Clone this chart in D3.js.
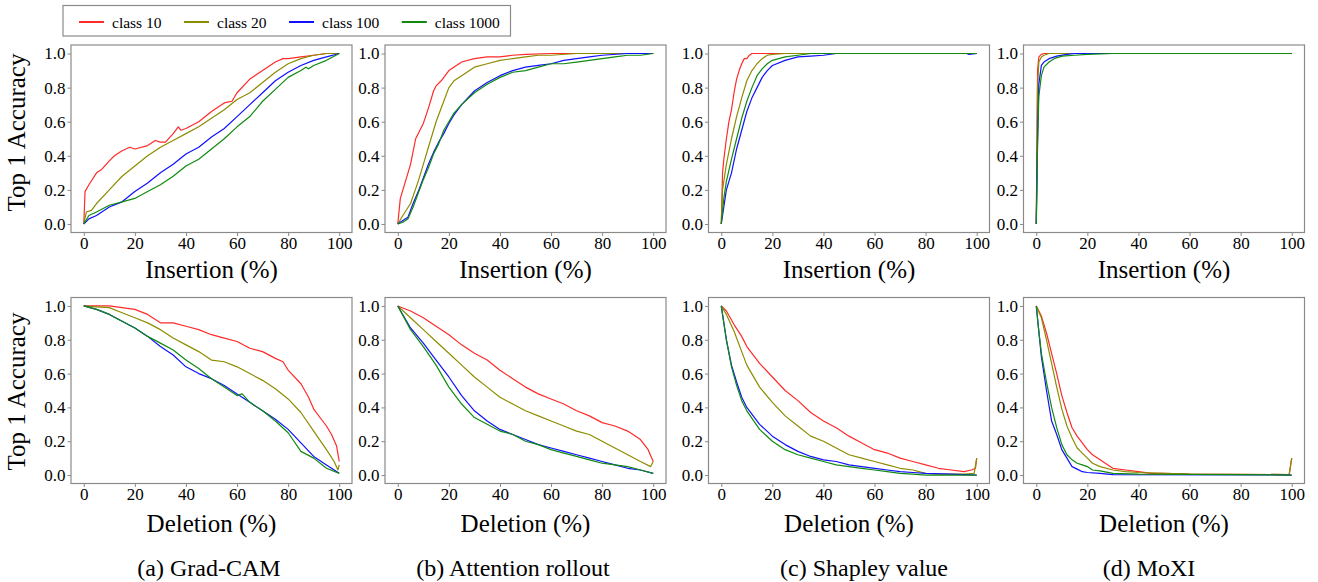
<!DOCTYPE html>
<html>
<head>
<meta charset="utf-8">
<script src="https://cdn.jsdelivr.net/npm/d3@7"></script>
<style>
  html, body { margin: 0; padding: 0; background: #fff; }
  svg { display: block; }
  svg text { font-family: "Liberation Serif", "Times New Roman", serif; fill: #000; }
</style>
</head>
<body>
<svg id="chart" width="1318" height="582"></svg>
<script>
// legend / series
var classes = ["class 10", "class 20", "class 100", "class 1000"];
var colors = ["#ff2a2a", "#8c8c00", "#1010ff", "#108a10"];
var xTicks = [0, 20, 40, 60, 80, 100];
var yTicks = [0, 0.2, 0.4, 0.6, 0.8, 1.0];
var captions = ["(a) Grad-CAM", "(b) Attention rollout", "(c) Shapley value", "(d) MoXI"];

// each panel: [class10, class20, class100, class1000], points are [percent, accuracy]
var insGradCam = [
  [[0,0],[0.5,0.19],[2,0.23],[5,0.30],[7,0.32],[10,0.37],[12,0.40],[15,0.43],[18,0.45],[20,0.44],[25,0.46],[28,0.49],[30,0.48],[32,0.48],[35,0.53],[37,0.57],[38,0.55],[40,0.56],[45,0.60],[50,0.66],[55,0.71],[58,0.72],[60,0.77],[65,0.85],[70,0.90],[75,0.95],[78,0.97],[80,0.97],[85,0.98],[90,0.99],[95,1.0],[100,1.0]],
  [[0,0],[1,0.07],[3,0.08],[5,0.12],[10,0.20],[15,0.28],[20,0.34],[25,0.40],[30,0.45],[35,0.49],[40,0.53],[45,0.57],[50,0.62],[55,0.67],[60,0.73],[65,0.77],[70,0.83],[75,0.89],[80,0.94],[85,0.97],[90,0.99],[95,1.0],[100,1.0]],
  [[0,0],[2,0.03],[5,0.05],[10,0.10],[15,0.13],[20,0.19],[25,0.24],[30,0.30],[35,0.35],[40,0.41],[45,0.45],[50,0.51],[55,0.56],[60,0.63],[65,0.70],[70,0.77],[75,0.84],[80,0.89],[85,0.93],[90,0.96],[95,0.98],[100,1.0]],
  [[0,0],[2,0.05],[5,0.07],[10,0.11],[15,0.13],[20,0.15],[25,0.19],[30,0.23],[35,0.28],[40,0.34],[45,0.38],[50,0.44],[55,0.50],[60,0.57],[65,0.63],[70,0.72],[75,0.79],[80,0.86],[85,0.90],[87,0.92],[88,0.91],[90,0.93],[95,0.96],[100,1.0]]
];
var insRollout = [
  [[0,0],[1,0.15],[3,0.25],[5,0.35],[7,0.50],[10,0.59],[12,0.68],[14,0.78],[15,0.81],[17,0.84],[20,0.90],[25,0.95],[30,0.97],[35,0.98],[40,0.98],[45,0.99],[50,0.995],[60,1.0],[100,1.0]],
  [[0,0],[2,0.05],[5,0.12],[8,0.25],[10,0.35],[12,0.45],[15,0.60],[18,0.72],[20,0.80],[22,0.84],[25,0.87],[30,0.92],[35,0.94],[40,0.96],[45,0.97],[50,0.98],[55,0.99],[60,0.99],[70,1.0],[100,1.0]],
  [[0,0],[2,0.02],[4,0.04],[6,0.12],[8,0.19],[10,0.27],[12,0.35],[14,0.42],[16,0.48],[18,0.53],[20,0.59],[22,0.64],[25,0.70],[30,0.78],[35,0.83],[40,0.87],[45,0.90],[50,0.92],[55,0.93],[60,0.94],[65,0.96],[70,0.97],[75,0.98],[80,0.99],[90,1.0],[100,1.0]],
  [[0,0],[2,0.01],[4,0.03],[6,0.10],[8,0.18],[10,0.26],[12,0.33],[14,0.41],[16,0.47],[18,0.55],[20,0.60],[22,0.65],[25,0.70],[30,0.77],[35,0.82],[40,0.86],[45,0.89],[50,0.90],[55,0.92],[60,0.94],[65,0.94],[70,0.95],[75,0.96],[80,0.97],[85,0.98],[90,0.99],[95,0.99],[100,1.0]]
];
var insShapley = [
  [[0,0],[0.5,0.30],[1,0.38],[2,0.50],[3,0.60],[4,0.67],[5,0.77],[6,0.85],[7,0.90],[8,0.94],[9,0.97],[10,0.97],[11,0.99],[12,1.0],[100,1.0]],
  [[0,0],[0.5,0.20],[2,0.35],[4,0.50],[6,0.63],[8,0.74],[10,0.84],[12,0.90],[14,0.94],[16,0.97],[18,0.99],[20,0.995],[25,1.0],[100,1.0]],
  [[0,0],[1,0.10],[2,0.20],[4,0.30],[6,0.44],[8,0.55],[10,0.66],[12,0.74],[14,0.80],[16,0.86],[18,0.90],[20,0.93],[25,0.96],[30,0.98],[35,0.985],[40,0.99],[45,1.0],[96,1.0],[97,0.995],[100,1.0]],
  [[0,0],[1,0.15],[2,0.25],[4,0.38],[6,0.50],[8,0.62],[10,0.72],[12,0.80],[14,0.87],[16,0.91],[18,0.94],[20,0.96],[25,0.98],[30,0.99],[35,1.0],[100,1.0]]
];
var insMoXI = [
  [[0,0],[0.5,0.90],[1,0.98],[2,0.995],[3,1.0],[100,1.0]],
  [[0,0],[0.5,0.80],[1,0.95],[2,0.98],[3,0.99],[5,1.0],[100,1.0]],
  [[0,0],[0.5,0.50],[1,0.82],[2,0.93],[3,0.95],[5,0.97],[8,0.985],[12,0.995],[15,1.0],[100,1.0]],
  [[0,0],[0.5,0.45],[1,0.75],[2,0.87],[3,0.92],[5,0.95],[7,0.97],[10,0.985],[15,0.99],[20,0.995],[30,1.0],[100,1.0]]
];
var delGradCam = [
  [[0,1.0],[10,1.0],[15,0.99],[20,0.98],[25,0.95],[28,0.92],[30,0.90],[35,0.90],[40,0.88],[45,0.86],[50,0.83],[55,0.81],[60,0.79],[65,0.75],[70,0.73],[75,0.69],[78,0.67],[80,0.62],[85,0.54],[88,0.46],[90,0.39],[93,0.33],[95,0.29],[97,0.24],[99,0.17],[100,0.08]],
  [[0,1.0],[5,0.995],[10,0.99],[15,0.96],[20,0.93],[25,0.90],[30,0.86],[35,0.81],[40,0.77],[45,0.73],[50,0.68],[55,0.67],[60,0.64],[65,0.60],[70,0.56],[75,0.51],[80,0.45],[85,0.37],[90,0.26],[95,0.15],[98,0.08],[99.5,0.03],[100,0.06]],
  [[0,1.0],[5,0.98],[10,0.95],[15,0.91],[20,0.87],[25,0.82],[30,0.76],[35,0.71],[40,0.64],[45,0.60],[50,0.57],[55,0.53],[60,0.48],[65,0.43],[70,0.38],[75,0.33],[80,0.27],[85,0.19],[90,0.11],[95,0.06],[100,0.01]],
  [[0,1.0],[5,0.98],[10,0.95],[15,0.91],[20,0.87],[25,0.82],[30,0.78],[35,0.74],[40,0.68],[45,0.63],[50,0.57],[55,0.52],[60,0.47],[62,0.48],[65,0.43],[70,0.38],[75,0.32],[80,0.25],[85,0.14],[90,0.10],[95,0.04],[100,0.01]]
];
var delRollout = [
  [[0,1.0],[5,0.97],[10,0.93],[15,0.88],[20,0.83],[25,0.77],[30,0.72],[35,0.68],[40,0.62],[45,0.57],[50,0.52],[55,0.48],[60,0.45],[65,0.42],[70,0.38],[75,0.35],[80,0.31],[85,0.29],[90,0.26],[95,0.21],[98,0.15],[100,0.08]],
  [[0,1.0],[5,0.93],[10,0.86],[15,0.79],[20,0.72],[25,0.65],[30,0.58],[35,0.52],[40,0.46],[45,0.42],[50,0.38],[55,0.35],[60,0.32],[65,0.29],[70,0.26],[75,0.24],[80,0.20],[85,0.16],[90,0.12],[95,0.08],[99,0.05],[100,0.08]],
  [[0,1.0],[5,0.87],[10,0.78],[15,0.68],[20,0.58],[25,0.47],[30,0.38],[35,0.32],[40,0.27],[45,0.24],[50,0.21],[55,0.18],[60,0.16],[65,0.14],[70,0.12],[75,0.10],[80,0.08],[85,0.06],[90,0.04],[95,0.03],[100,0.01]],
  [[0,1.0],[5,0.86],[10,0.76],[15,0.65],[20,0.52],[25,0.42],[30,0.34],[35,0.30],[40,0.26],[45,0.24],[50,0.20],[55,0.18],[60,0.15],[65,0.13],[70,0.11],[75,0.09],[80,0.07],[85,0.06],[90,0.05],[95,0.03],[100,0.01]]
];
var delShapley = [
  [[0,1.0],[2,0.97],[5,0.89],[8,0.82],[10,0.76],[15,0.66],[20,0.58],[25,0.50],[30,0.44],[35,0.37],[40,0.32],[45,0.28],[50,0.23],[55,0.19],[60,0.15],[65,0.13],[70,0.10],[75,0.08],[80,0.06],[85,0.04],[90,0.03],[95,0.02],[98,0.03],[99.5,0.04],[100,0.10]],
  [[0,1.0],[2,0.95],[5,0.85],[8,0.73],[10,0.65],[15,0.52],[20,0.43],[25,0.35],[30,0.29],[35,0.23],[40,0.20],[45,0.16],[50,0.12],[55,0.10],[60,0.08],[65,0.06],[70,0.04],[75,0.03],[80,0.01],[85,0.005],[95,0.005],[99,0.01],[100,0.10]],
  [[0,1.0],[1,0.90],[2,0.80],[4,0.65],[6,0.55],[8,0.46],[10,0.40],[15,0.30],[20,0.23],[25,0.18],[30,0.14],[35,0.11],[40,0.09],[45,0.08],[50,0.06],[55,0.05],[60,0.04],[65,0.03],[70,0.02],[75,0.015],[80,0.01],[90,0.005],[100,0]],
  [[0,1.0],[1,0.90],[2,0.80],[4,0.64],[6,0.53],[8,0.44],[10,0.38],[15,0.27],[20,0.20],[25,0.15],[30,0.12],[35,0.10],[40,0.08],[45,0.06],[50,0.05],[55,0.04],[60,0.03],[65,0.02],[70,0.01],[75,0.005],[80,0],[100,0]]
];
var delMoXI = [
  [[0,1.0],[2,0.94],[4,0.84],[6,0.72],[8,0.60],[10,0.47],[12,0.37],[14,0.28],[16,0.23],[18,0.19],[20,0.15],[22,0.12],[25,0.09],[28,0.06],[30,0.04],[35,0.03],[40,0.02],[45,0.01],[50,0.01],[60,0.005],[99,0.003],[100,0.10]],
  [[0,1.0],[2,0.93],[4,0.80],[6,0.66],[8,0.52],[10,0.39],[12,0.29],[14,0.22],[16,0.16],[18,0.13],[20,0.10],[22,0.07],[25,0.05],[30,0.03],[35,0.02],[40,0.015],[50,0.01],[60,0.005],[99,0.003],[100,0.10]],
  [[0,1.0],[1,0.85],[2,0.70],[4,0.50],[6,0.32],[8,0.24],[10,0.15],[12,0.10],[14,0.05],[16,0.035],[18,0.02],[20,0.015],[25,0.01],[30,0.003],[100,0]],
  [[0,1.0],[1,0.85],[2,0.72],[4,0.55],[6,0.40],[8,0.28],[10,0.18],[12,0.12],[14,0.09],[16,0.07],[18,0.06],[20,0.05],[22,0.03],[25,0.025],[30,0.01],[40,0.005],[100,0]]
];

var rows = [
  { panels: [insGradCam, insRollout, insShapley, insMoXI], title: "Insertion (%)" },
  { panels: [delGradCam, delRollout, delShapley, delMoXI], title: "Deletion (%)" }
];

(function() {
  var serif = "Liberation Serif, Times New Roman, serif";
  var svg = d3.select("#chart").attr("font-family", serif);
  var colLeft = [71, 385, 708.5, 1023.5], panelW = 281;
  var rowTop = [45, 297.5], rowH = [187.5, 186];
  var titleY = [277.5, 531.5], ylabY = [132.5, 391.5];
  var captionX = [209, 513, 864, 1149], captionY = 575.5;
  var frame = "#8a8a8a";

  rows.forEach(function(row, r) {
    row.panels.forEach(function(series, c) {
      var x = d3.scaleLinear().domain([-5, 105]).range([0, panelW]);
      var y = d3.scaleLinear().domain([-0.05, 1.05]).range([rowH[r], 0]);
      var g = svg.append("g").attr("transform", "translate(" + colLeft[c] + "," + rowTop[r] + ")");

      var line = d3.line().x(function(d) { return x(d[0]); }).y(function(d) { return y(d[1]); });
      d3.range(series.length).forEach(function(i) {
        g.append("path").datum(series[i]).attr("d", line)
          .attr("fill", "none").attr("stroke", colors[i]).attr("stroke-width", 1.2)
          .attr("stroke-linejoin", "round");
      });

      g.append("rect").attr("width", panelW).attr("height", rowH[r])
        .attr("fill", "none").attr("stroke", frame).attr("stroke-width", 1.2);

      var ax = g.append("g").attr("transform", "translate(0," + rowH[r] + ")")
        .call(d3.axisBottom(x).tickValues(xTicks).tickSize(3.5).tickPadding(0.5).tickFormat(d3.format("d")));
      var ay = g.append("g")
        .call(d3.axisLeft(y).tickValues(yTicks).tickSize(3.5).tickPadding(2).tickFormat(d3.format(".1f")));
      [ax, ay].forEach(function(a) {
        a.attr("font-family", serif).attr("font-size", 17);
        a.select(".domain").remove();
        a.selectAll(".tick line").attr("stroke", frame);
        a.selectAll(".tick text").attr("fill", "#000");
      });

      svg.append("text").attr("x", colLeft[c] + x(50)).attr("y", titleY[r])
        .attr("text-anchor", "middle").attr("font-size", 25).text(row.title);
      if (c === 0) {
        svg.append("text").attr("transform", "translate(25," + ylabY[r] + ") rotate(-90)")
          .attr("text-anchor", "middle").attr("font-size", 25).text("Top 1 Accuracy");
      }
    });
  });

  captions.forEach(function(t, i) {
    svg.append("text").attr("x", captionX[i]).attr("y", captionY)
      .attr("text-anchor", "middle").attr("font-size", 24).text(t);
  });

  // legend
  var lg = svg.append("g");
  lg.append("rect").attr("x", 63).attr("y", 5.5).attr("width", 447.5).attr("height", 30.5)
    .attr("fill", "#fff").attr("stroke", frame).attr("stroke-width", 1.2);
  var lx = 79;
  classes.forEach(function(name, i) {
    lg.append("line").attr("x1", lx).attr("x2", lx + 25).attr("y1", 22).attr("y2", 22)
      .attr("stroke", colors[i]).attr("stroke-width", 2);
    var t = lg.append("text").attr("x", lx + 33).attr("y", 27.5).attr("font-size", 15.5).text(name);
    lx += 33 + t.node().getComputedTextLength() + 22.5;
  });
})();
</script>
</body>
</html>
